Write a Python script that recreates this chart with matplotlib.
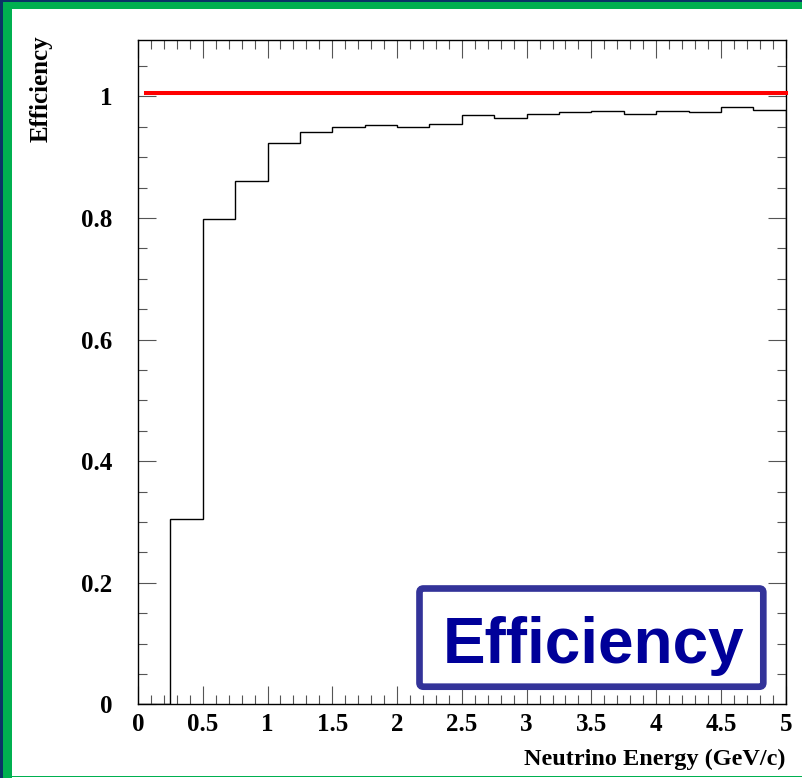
import matplotlib
matplotlib.use("Agg")
import matplotlib.pyplot as plt
from matplotlib.patches import Rectangle, FancyBboxPatch
from matplotlib.ticker import MultipleLocator, FixedLocator

# Efficiency per energy bin (GeV/c)
bin_edges = [0.0, 0.25, 0.5, 0.75, 1.0, 1.25, 1.5, 1.75, 2.0, 2.25, 2.5,
             2.75, 3.0, 3.25, 3.5, 3.75, 4.0, 4.25, 4.5, 4.75, 5.0]
efficiency = [0.0, 0.305, 0.799, 0.860, 0.924, 0.941, 0.950, 0.952, 0.950,
              0.954, 0.969, 0.964, 0.971, 0.974, 0.976, 0.971, 0.976, 0.974,
              0.982, 0.978]

# Reference level drawn as a red line
ref_level = 1.005
ref_range = [0.06, 5.0]

x_ticks = [0, 0.5, 1, 1.5, 2, 2.5, 3, 3.5, 4, 4.5, 5]
x_tick_labels = ["0", "0.5", "1", "1.5", "2", "2.5", "3", "3.5", "4", "4.5", "5"]
y_ticks = [0, 0.2, 0.4, 0.6, 0.8, 1.0]
y_tick_labels = ["0", "0.2", "0.4", "0.6", "0.8", "1"]

W, H = 802, 778
fig = plt.figure(figsize=(W / 100, H / 100), dpi=100)
fig.patch.set_facecolor("white")

serif = "Liberation Serif"

ax = fig.add_axes([138 / W, 1 - 704.3 / H, (785.7 - 138) / W, (704.3 - 40) / H])
ax.stairs(efficiency, bin_edges, color="black", lw=1.0)
ax.plot(ref_range, [ref_level, ref_level], color="#ff0000", lw=2.9,
        solid_capstyle="projecting", clip_on=False, zorder=5)

ax.set_xlim(0, 5)
ax.set_ylim(0, 1.0926)

ax.xaxis.set_major_locator(FixedLocator(x_ticks))
ax.xaxis.set_minor_locator(MultipleLocator(0.1))
ax.yaxis.set_major_locator(FixedLocator(y_ticks))
ax.yaxis.set_minor_locator(MultipleLocator(0.05))
ax.set_xticklabels(x_tick_labels)
ax.set_yticklabels(y_tick_labels)

ax.tick_params(which="both", direction="in", top=True, right=True,
               color="#555555", width=0.8)
ax.tick_params(which="major", length=13)
ax.tick_params(which="minor", length=6.5)
ax.tick_params(axis="x", which="major", pad=6.5)
ax.tick_params(axis="y", which="major", pad=18.5)
for lab in ax.get_xticklabels() + ax.get_yticklabels():
    lab.set_fontfamily(serif)
    lab.set_fontweight("bold")
    lab.set_fontsize(18)
for sp in ax.spines.values():
    sp.set_linewidth(1.0)
    sp.set_color("black")

# Axis titles, placed ROOT-style at the end of each axis
fig.text(785.7 / W, 1 - 759 / H, "Neutrino Energy (GeV/c)", ha="right",
         va="center", fontfamily=serif, fontweight="bold", fontsize=17.5)
fig.text(41 / W, 1 - 35 / H, "Efficiency", ha="center", va="top",
         rotation=90, fontfamily=serif, fontweight="bold", fontsize=18)

# Title box in the lower right
inch = fig.dpi_scale_trans
box = FancyBboxPatch((419.5 / 100, (H - 686.7) / 100),
                     (763.3 - 419.5) / 100, (686.7 - 588.5) / 100,
                     boxstyle="round,pad=0,rounding_size=0.04",
                     transform=inch, facecolor="white", edgecolor="#333399",
                     lw=4.8, zorder=10)
fig.patches.append(box)
fig.text(594 / W, (H - 663.3) / H, "Efficiency", ha="center", va="baseline",
         fontfamily="Liberation Sans", fontweight="bold", fontsize=46,
         color="#000099", zorder=11)

# Slide frame: navy outer edge with a green band
navy = "#0a3466"
green = "#00b050"
frame = [
    (0, 0, W, 1.7, navy),
    (0, 0, 3.3, H, navy),
    (3.3, 1.7, W - 3.3, 7.6, green),
    (3.3, 1.7, 8.4, H - 1.7, green),
    (3.3, 775.5, W - 3.3, 1.6, green),
]
for x, y, w, h, c in frame:
    fig.patches.append(Rectangle((x / 100, (H - y - h) / 100), w / 100, h / 100,
                                 transform=inch, facecolor=c, edgecolor="none",
                                 zorder=20))

fig.savefig("out.png", dpi=100)
